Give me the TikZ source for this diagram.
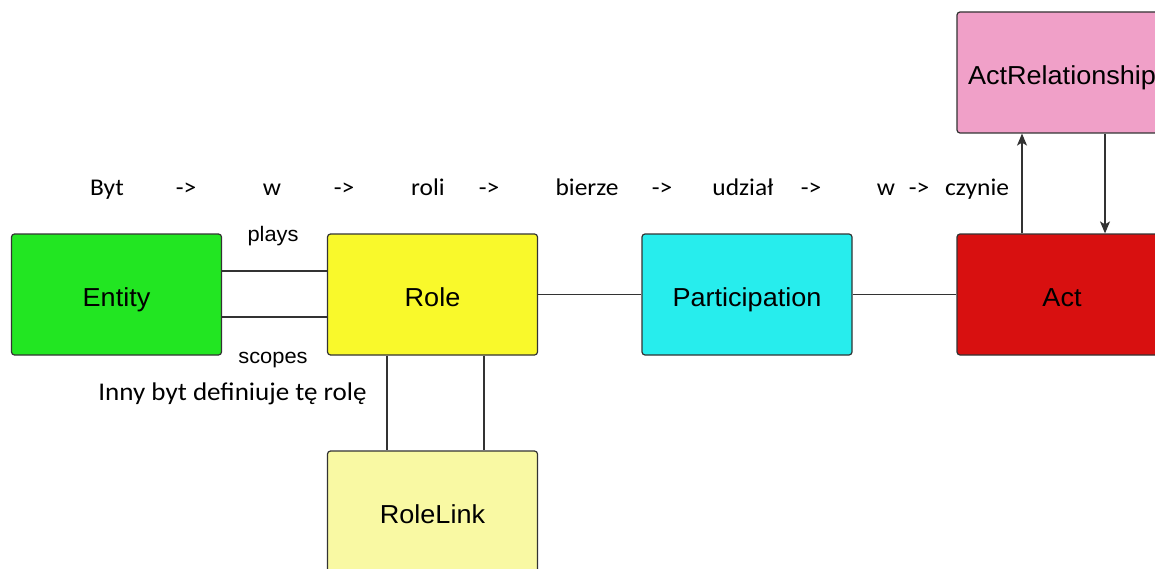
\documentclass[tikz,border=0pt]{standalone}
\usepackage{fontspec}
\setmainfont{Liberation Sans}[FakeStretch=1.04]
\newfontfamily\calfont{Carlito}[FakeStretch=1.06]
\usetikzlibrary{arrows.meta}
\definecolor{cEntity}{HTML}{22E622}
\definecolor{cRole}{HTML}{F9F92B}
\definecolor{cPart}{HTML}{27EDED}
\definecolor{cAct}{HTML}{D81010}
\definecolor{cActRel}{HTML}{F0A0C8}
\definecolor{cLink}{HTML}{F9F9A3}
\definecolor{cLine}{HTML}{333333}
\tikzset{
  box/.style={draw=cLine, line width=1.2pt, rounded corners=3pt, minimum width=210pt, minimum height=121pt, inner sep=0pt, text height=24pt, text depth=0pt, font=\fontsize{26}{30}\selectfont},
  conn/.style={draw=cLine, line width=1.2pt},
  arr/.style={conn, -{Stealth[length=12pt,width=10pt,inset=3pt]}},
  toplbl/.style={anchor=base, inner sep=0pt, font=\calfont\fontsize{24}{28}\selectfont},
  smalllbl/.style={anchor=base, inner sep=0pt, font=\fontsize{21}{25}\selectfont}
}
\begin{document}
\begin{tikzpicture}[x=1pt,y=-1pt]
\useasboundingbox (0,0) rectangle (1155,569);
\clip (0,0) rectangle (1155,569);
\fill[white] (0,0) rectangle (1155,569);
% boxes
\node[box, fill=cEntity] (entity) at (116.5,294.5) {Entity};
\node[box, fill=cRole] (role) at (432.5,294.5) {Role};
\node[box, fill=cPart] (part) at (747,294.5) {Participation};
\node[box, fill=cAct] (act) at (1062,294.5) {Act};
\node[box, fill=cActRel] (actrel) at (1062,72.5) {ActRelationship};
\node[box, fill=cLink] (link) at (432.5,511.5) {RoleLink};
% connectors
\draw[conn] ([yshift=23.5pt]entity.east) -- ([yshift=23.5pt]role.west);
\draw[conn] ([yshift=-22.5pt]entity.east) -- ([yshift=-22.5pt]role.west);
\draw[conn] (role.east) -- (part.west);
\draw[conn] (part.east) -- (act.west);
\draw[conn] ([xshift=-45.5pt]role.south) -- ([xshift=-45.5pt]link.north);
\draw[conn] ([xshift=51.5pt]role.south) -- ([xshift=51.5pt]link.north);
\draw[arr] ([xshift=-40pt]act.north) -- ([xshift=-40pt]actrel.south);
\draw[arr] ([xshift=43pt]actrel.south) -- ([xshift=43pt]act.north);
% top sentence
\node[toplbl] (t1) at (107,196) {Byt};
\node[toplbl] (t2) at (186,196) {->};
\node[toplbl] (t3) at (272,196) {w};
\node[toplbl] (t4) at (344,196) {->};
\node[toplbl] (t5) at (428,196) {roli};
\node[toplbl] (t6) at (489,196) {->};
\node[toplbl] (t7) at (587,196) {bierze};
\node[toplbl] (t8) at (662,196) {->};
\node[toplbl] (t9) at (743,196) {udział};
\node[toplbl] (t10) at (811,196) {->};
\node[toplbl] (t11) at (886,196) {w};
\node[toplbl] (t12) at (919,196) {->};
\node[toplbl] (t13) at (977,196) {czynie};
% edge labels
\node[smalllbl] (plays) at (273,241) {plays};
\node[smalllbl] (scopes) at (273,363) {scopes};
\node[anchor=base, inner sep=0pt, font=\calfont\fontsize{25.5}{30}\selectfont] (inny) at (232.5,400) {Inny byt definiuje tę rolę};
\end{tikzpicture}
\end{document}
